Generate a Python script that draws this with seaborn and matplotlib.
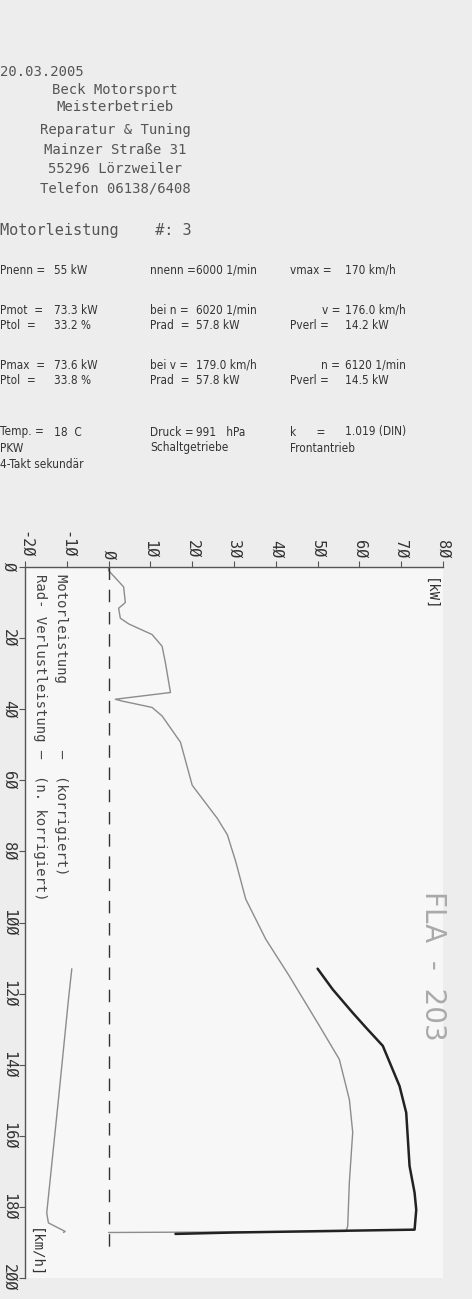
import matplotlib
matplotlib.use("Agg")
import matplotlib.pyplot as plt
import seaborn as sns
import pandas as pd

# Rad-Leistung (grey, n. korrigiert): speed km/h, kW
rad_speed = [0, 1, 5.6, 10, 11.6, 14.4, 16, 19, 22.3, 27, 35.3, 37.2, 37.7, 39.5, 41.9, 49.3, 61.4,
             70.7, 75.3, 82.8, 93.4, 104.7, 115, 129, 138.5, 149.8, 159, 173, 185.4, 186.9, 187.2]
rad_kw = [0, 0, 3.6, 4, 2.4, 2.8, 4.8, 10.4, 12.8, 13.6, 14.8, 1.6, 3.2, 10.4, 12.8, 17.2, 20,
          26, 28.4, 30.4, 32.8, 37.6, 43.2, 50.4, 55.2, 57.6, 58.4, 57.6, 57.2, 56.8, 0]
# Verlustleistung (grey, negative)
loss_speed = [113, 121.6, 149.8, 181.7, 184.5, 186.9, 187.2]
loss_kw = [-8.8, -9.6, -12, -14.8, -14.4, -10.4, -10.8]
# Motorleistung (black, korrigiert)
mot_speed = [113, 118.8, 125.4, 129.6, 134.7, 146, 153.5, 168.5, 176, 180.8, 186.4, 187.2, 187.6]
mot_kw = [50, 53.6, 58.4, 61.6, 65.6, 69.6, 71.2, 72, 73.2, 73.6, 73.2, 30, 16]

kw_ticks = [-20, -10, 0, 10, 20, 30, 40, 50, 60, 70, 80]
speed_ticks = [0, 20, 40, 60, 80, 100, 120, 140, 160, 180, 200]

sns.set_style("white")
plt.rcParams['font.family'] = ['DejaVu Sans Mono', 'DejaVu Sans']

fig = plt.figure(figsize=(4.72, 12.99), dpi=100)
fig.patch.set_facecolor('#ededed')
ax = fig.add_axes([25/472, 1-1278/1299, (443-25)/472, (1278-567)/1299])
ax.set_facecolor('#f7f7f7')

sns.lineplot(data=pd.DataFrame({'kw': rad_kw, 'v': rad_speed}), x='kw', y='v', sort=False,
             orient='y', color='#8c8c8c', lw=1.0, ax=ax)
sns.lineplot(data=pd.DataFrame({'kw': loss_kw, 'v': loss_speed}), x='kw', y='v', sort=False,
             orient='y', color='#8c8c8c', lw=1.0, ax=ax)
sns.lineplot(data=pd.DataFrame({'kw': mot_kw, 'v': mot_speed}), x='kw', y='v', sort=False,
             orient='y', color='#222222', lw=1.8, ax=ax)
ax.plot([0, 0], [0, 193], color='#333333', lw=1.0, dashes=(9, 7))

ax.set_xlim(-20, 80)
ax.set_ylim(200, 0)
ax.xaxis.tick_top()
ax.set_xticks(kw_ticks)
ax.set_yticks(speed_ticks)
ax.set_xticklabels([str(t).replace('0', 'Ø') for t in kw_ticks], rotation=-90, fontsize=11, color='#333')
ax.set_yticklabels([str(t).replace('0', 'Ø') for t in speed_ticks], rotation=-90, fontsize=11,
                   color='#333', va='center')
ax.tick_params(axis='x', top=True, length=4, pad=2, color='#555')
ax.tick_params(axis='y', left=True, length=4, pad=2, color='#555')
ax.set_xlabel(''); ax.set_ylabel('')
for s in ['right', 'bottom']:
    ax.spines[s].set_visible(False)
for s in ['left', 'top']:
    ax.spines[s].set_color('#555')
    ax.spines[s].set_linewidth(1.0)

ax.text(77, 3, '[kW]', rotation=-90, fontsize=10, va='top', ha='center', color='#333')
ax.text(-17.5, 186, '[km/h]', rotation=-90, fontsize=10, va='top', ha='center', color='#333')
ax.text(-11.5, 2, 'Motorleistung        —  (korrigiert)', rotation=-90, fontsize=10,
        va='top', ha='center', color='#444')
ax.text(-16.5, 2, 'Rad- Verlustleistung —  (n. korrigiert)', rotation=-90, fontsize=10,
        va='top', ha='center', color='#444')
ax.text(77.5, 91, 'FLA  -  203', rotation=-90, fontsize=20, va='top', ha='center',
        color='#aaaaaa', family='DejaVu Sans')

# header
def T(x, y, s, size=10, fam='DejaVu Sans Mono', **kw):
    fig.text(x/472, 1-y/1299, s, fontsize=size, family=fam, color='#555', va='center', **kw)

T(0, 72, '20.03.2005')
T(115, 90, 'Beck Motorsport', ha='center')
T(115, 107, 'Meisterbetrieb', ha='center')
T(115, 130, 'Reparatur & Tuning', ha='center')
T(115, 150, 'Mainzer Straße 31', ha='center')
T(115, 169, '55296 Lörzweiler', ha='center')
T(115, 188, 'Telefon 06138/6408', ha='center')
T(0, 230, 'Motorleistung    #: 3', size=11)

fs = 8.5
def N(x, y, s, **kw):
    fig.text(x/472, 1-y/1299, s, fontsize=fs, family='DejaVu Sans', stretch='condensed',
             color='#333', va='center', **kw)

rows = [
    (270, [('Pnenn =', '55 kW'), ('nnenn =', '6000 1/min'), ('vmax =', '170 km/h')]),
    (310, [('Pmot  =', '73.3 kW'), ('bei n =', '6020 1/min'), ('v =', '176.0 km/h')]),
    (326, [('Ptol  =', '33.2 %'), ('Prad  =', '57.8 kW'), ('Pverl =', '14.2 kW')]),
    (365, [('Pmax  =', '73.6 kW'), ('bei v =', '179.0 km/h'), ('n =', '6120 1/min')]),
    (381, [('Ptol  =', '33.8 %'), ('Prad  =', '57.8 kW'), ('Pverl =', '14.5 kW')]),
    (432, [('Temp. =', '18  C'), ('Druck =', '991   hPa'), ('k      =', '1.019 (DIN)')]),
]
for y, cols in rows:
    for (xl, xv), (lab, val) in zip([(0, 54), (150, 196), (290, 345)], cols):
        if lab in ('v =', 'n ='):
            N(340, y, lab, ha='right')
        else:
            N(xl, y, lab)
        N(xv, y, val)
N(0, 448, 'PKW'); N(150, 448, 'Schaltgetriebe'); N(290, 448, 'Frontantrieb')
N(0, 465, '4-Takt sekundär')

fig.savefig('out.png', dpi=100, facecolor=fig.get_facecolor())
